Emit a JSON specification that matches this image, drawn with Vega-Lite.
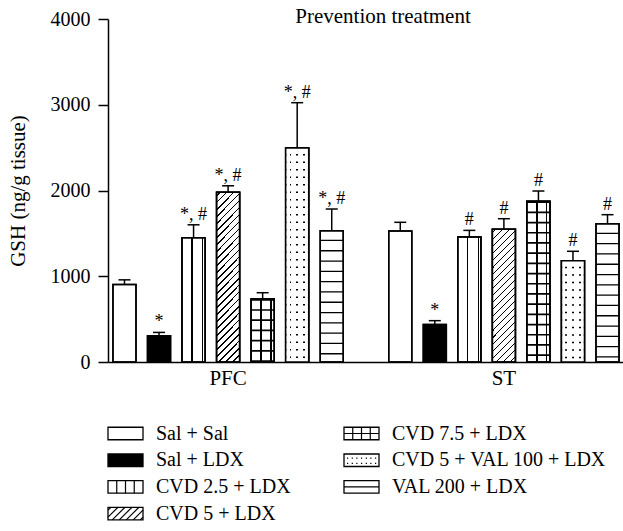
{
 "$schema": "https://vega.github.io/schema/vega-lite/v6.json",
 "background": "white",
 "padding": {"left": 7, "top": 6, "right": 0, "bottom": 0},
 "config": {"view": {"stroke": null}, "font": "Liberation Serif", "concat": {"spacing": 10}},
 "datasets": {
  "main": [
   {"region":"PFC","treatment":"Sal + Sal","mean":905,"upper":958,"label":""},
   {"region":"PFC","treatment":"Sal + LDX","mean":305,"upper":345,"label":"*"},
   {"region":"PFC","treatment":"CVD 2.5 + LDX","mean":1450,"upper":1600,"label":"*, #"},
   {"region":"PFC","treatment":"CVD 5 + LDX","mean":1980,"upper":2055,"label":"*, #"},
   {"region":"PFC","treatment":"CVD 7.5 + LDX","mean":735,"upper":808,"label":""},
   {"region":"PFC","treatment":"CVD 5 + VAL 100 + LDX","mean":2497,"upper":3024,"label":"*, #"},
   {"region":"PFC","treatment":"VAL 200 + LDX","mean":1530,"upper":1784,"label":"*, #"},
   {"region":"ST","treatment":"Sal + Sal","mean":1528,"upper":1629,"label":""},
   {"region":"ST","treatment":"Sal + LDX","mean":438,"upper":482,"label":"*"},
   {"region":"ST","treatment":"CVD 2.5 + LDX","mean":1458,"upper":1535,"label":"#"},
   {"region":"ST","treatment":"CVD 5 + LDX","mean":1547,"upper":1671,"label":"#"},
   {"region":"ST","treatment":"CVD 7.5 + LDX","mean":1874,"upper":1994,"label":"#"},
   {"region":"ST","treatment":"CVD 5 + VAL 100 + LDX","mean":1182,"upper":1291,"label":"#"},
   {"region":"ST","treatment":"VAL 200 + LDX","mean":1613,"upper":1718,"label":"#"}
  ],
  "legend": [
   {"treatment":"Sal + Sal","col":0,"row":0},
   {"treatment":"Sal + LDX","col":0,"row":1},
   {"treatment":"CVD 2.5 + LDX","col":0,"row":2},
   {"treatment":"CVD 5 + LDX","col":0,"row":3},
   {"treatment":"CVD 7.5 + LDX","col":1,"row":0},
   {"treatment":"CVD 5 + VAL 100 + LDX","col":1,"row":1},
   {"treatment":"VAL 200 + LDX","col":1,"row":2}
  ]
 },
 "vconcat": [
  {
   "width": 516,
   "height": 343,
   "title": {"text": "Prevention treatment", "font": "Liberation Serif", "fontSize": 21, "fontWeight": "normal", "color": "black", "anchor": "middle", "frame": "group", "dx": 17, "baseline": "alphabetic", "offset": -35},
   "data": {"name": "main"},
   "encoding": {
    "x": {"field": "region", "type": "nominal", "sort": ["PFC", "ST"], "scale": {"paddingInner": 0.165, "paddingOuter": 0.018},
          "axis": {"title": null, "labelAngle": 0, "ticks": false, "labelFontSize": 21, "labelFont": "Liberation Serif", "labelColor": "black", "labelPadding": 5, "domainColor": "black", "domainWidth": 1.5}},
    "xOffset": {"field": "treatment", "type": "nominal", "scale": {"domain": ["Sal + Sal", "Sal + LDX", "CVD 2.5 + LDX", "CVD 5 + LDX", "CVD 7.5 + LDX", "CVD 5 + VAL 100 + LDX", "VAL 200 + LDX"], "paddingInner": 0.333, "paddingOuter": 0}}
   },
   "layer": [
    {
     "mark": {"type": "bar", "stroke": "black", "strokeWidth": 1.5},
     "encoding": {
      "y": {"field": "mean", "type": "quantitative", "scale": {"domain": [0, 4000]},
            "axis": {"title": "GSH (ng/g tissue)", "titleFont": "Liberation Serif", "titleFontSize": 21, "titleFontWeight": "normal", "titleColor": "black", "titlePadding": 22, "labelFont": "Liberation Serif", "labelFontSize": 20, "labelColor": "black", "labelPadding": 8, "tickSize": 10, "tickColor": "black", "tickWidth": 1.5, "domainColor": "black", "domainWidth": 1.5, "grid": false, "values": [0, 1000, 2000, 3000, 4000], "format": "d"}},
      "fill": {"condition": {"test": "datum.treatment === 'Sal + LDX'", "value": "black"}, "value": "white"}
     }
    },
    {
     "transform": [{"filter": "datum.treatment === 'CVD 5 + LDX' && datum.region === 'PFC'"}],
     "mark": {"type": "bar", "stroke": "black", "strokeWidth": 1.5, "fill": {"gradient": "linear", "x1": 0, "y1": 0, "x2": 0.1533, "y2": 1.1163, "stops": [
      {"offset":0.014,"color":"white"},{"offset":0.014,"color":"black"},{"offset":0.022,"color":"black"},{"offset":0.022,"color":"white"},
      {"offset":0.05,"color":"white"},{"offset":0.05,"color":"black"},{"offset":0.058,"color":"black"},{"offset":0.058,"color":"white"},
      {"offset":0.087,"color":"white"},{"offset":0.087,"color":"black"},{"offset":0.095,"color":"black"},{"offset":0.095,"color":"white"},
      {"offset":0.123,"color":"white"},{"offset":0.123,"color":"black"},{"offset":0.131,"color":"black"},{"offset":0.131,"color":"white"},
      {"offset":0.159,"color":"white"},{"offset":0.159,"color":"black"},{"offset":0.167,"color":"black"},{"offset":0.167,"color":"white"},
      {"offset":0.196,"color":"white"},{"offset":0.196,"color":"black"},{"offset":0.204,"color":"black"},{"offset":0.204,"color":"white"},
      {"offset":0.232,"color":"white"},{"offset":0.232,"color":"black"},{"offset":0.24,"color":"black"},{"offset":0.24,"color":"white"},
      {"offset":0.268,"color":"white"},{"offset":0.268,"color":"black"},{"offset":0.276,"color":"black"},{"offset":0.276,"color":"white"},
      {"offset":0.304,"color":"white"},{"offset":0.304,"color":"black"},{"offset":0.312,"color":"black"},{"offset":0.312,"color":"white"},
      {"offset":0.341,"color":"white"},{"offset":0.341,"color":"black"},{"offset":0.349,"color":"black"},{"offset":0.349,"color":"white"},
      {"offset":0.377,"color":"white"},{"offset":0.377,"color":"black"},{"offset":0.385,"color":"black"},{"offset":0.385,"color":"white"},
      {"offset":0.413,"color":"white"},{"offset":0.413,"color":"black"},{"offset":0.421,"color":"black"},{"offset":0.421,"color":"white"},
      {"offset":0.45,"color":"white"},{"offset":0.45,"color":"black"},{"offset":0.458,"color":"black"},{"offset":0.458,"color":"white"},
      {"offset":0.486,"color":"white"},{"offset":0.486,"color":"black"},{"offset":0.494,"color":"black"},{"offset":0.494,"color":"white"},
      {"offset":0.522,"color":"white"},{"offset":0.522,"color":"black"},{"offset":0.53,"color":"black"},{"offset":0.53,"color":"white"},
      {"offset":0.559,"color":"white"},{"offset":0.559,"color":"black"},{"offset":0.567,"color":"black"},{"offset":0.567,"color":"white"},
      {"offset":0.595,"color":"white"},{"offset":0.595,"color":"black"},{"offset":0.603,"color":"black"},{"offset":0.603,"color":"white"},
      {"offset":0.631,"color":"white"},{"offset":0.631,"color":"black"},{"offset":0.639,"color":"black"},{"offset":0.639,"color":"white"},
      {"offset":0.667,"color":"white"},{"offset":0.667,"color":"black"},{"offset":0.675,"color":"black"},{"offset":0.675,"color":"white"},
      {"offset":0.704,"color":"white"},{"offset":0.704,"color":"black"},{"offset":0.712,"color":"black"},{"offset":0.712,"color":"white"},
      {"offset":0.74,"color":"white"},{"offset":0.74,"color":"black"},{"offset":0.748,"color":"black"},{"offset":0.748,"color":"white"},
      {"offset":0.776,"color":"white"},{"offset":0.776,"color":"black"},{"offset":0.784,"color":"black"},{"offset":0.784,"color":"white"},
      {"offset":0.813,"color":"white"},{"offset":0.813,"color":"black"},{"offset":0.821,"color":"black"},{"offset":0.821,"color":"white"},
      {"offset":0.849,"color":"white"},{"offset":0.849,"color":"black"},{"offset":0.857,"color":"black"},{"offset":0.857,"color":"white"},
      {"offset":0.885,"color":"white"},{"offset":0.885,"color":"black"},{"offset":0.893,"color":"black"},{"offset":0.893,"color":"white"},
      {"offset":0.922,"color":"white"},{"offset":0.922,"color":"black"},{"offset":0.93,"color":"black"},{"offset":0.93,"color":"white"},
      {"offset":0.958,"color":"white"},{"offset":0.958,"color":"black"},{"offset":0.966,"color":"black"},{"offset":0.966,"color":"white"}
     ]}},
     "encoding": {"y": {"field": "mean", "type": "quantitative"}}
    },
    {
     "transform": [{"filter": "datum.treatment === 'CVD 5 + LDX' && datum.region === 'ST'"}],
     "mark": {"type": "bar", "stroke": "black", "strokeWidth": 1.5, "fill": {"gradient": "linear", "x1": 0, "y1": 0, "x2": 0.2003, "y2": 1.1404, "stops": [
      {"offset":0.017,"color":"white"},{"offset":0.017,"color":"black"},{"offset":0.027,"color":"black"},{"offset":0.027,"color":"white"},
      {"offset":0.062,"color":"white"},{"offset":0.062,"color":"black"},{"offset":0.072,"color":"black"},{"offset":0.072,"color":"white"},
      {"offset":0.107,"color":"white"},{"offset":0.107,"color":"black"},{"offset":0.117,"color":"black"},{"offset":0.117,"color":"white"},
      {"offset":0.152,"color":"white"},{"offset":0.152,"color":"black"},{"offset":0.162,"color":"black"},{"offset":0.162,"color":"white"},
      {"offset":0.197,"color":"white"},{"offset":0.197,"color":"black"},{"offset":0.207,"color":"black"},{"offset":0.207,"color":"white"},
      {"offset":0.242,"color":"white"},{"offset":0.242,"color":"black"},{"offset":0.252,"color":"black"},{"offset":0.252,"color":"white"},
      {"offset":0.286,"color":"white"},{"offset":0.286,"color":"black"},{"offset":0.296,"color":"black"},{"offset":0.296,"color":"white"},
      {"offset":0.331,"color":"white"},{"offset":0.331,"color":"black"},{"offset":0.341,"color":"black"},{"offset":0.341,"color":"white"},
      {"offset":0.376,"color":"white"},{"offset":0.376,"color":"black"},{"offset":0.386,"color":"black"},{"offset":0.386,"color":"white"},
      {"offset":0.421,"color":"white"},{"offset":0.421,"color":"black"},{"offset":0.431,"color":"black"},{"offset":0.431,"color":"white"},
      {"offset":0.466,"color":"white"},{"offset":0.466,"color":"black"},{"offset":0.476,"color":"black"},{"offset":0.476,"color":"white"},
      {"offset":0.511,"color":"white"},{"offset":0.511,"color":"black"},{"offset":0.521,"color":"black"},{"offset":0.521,"color":"white"},
      {"offset":0.556,"color":"white"},{"offset":0.556,"color":"black"},{"offset":0.566,"color":"black"},{"offset":0.566,"color":"white"},
      {"offset":0.601,"color":"white"},{"offset":0.601,"color":"black"},{"offset":0.611,"color":"black"},{"offset":0.611,"color":"white"},
      {"offset":0.646,"color":"white"},{"offset":0.646,"color":"black"},{"offset":0.656,"color":"black"},{"offset":0.656,"color":"white"},
      {"offset":0.691,"color":"white"},{"offset":0.691,"color":"black"},{"offset":0.701,"color":"black"},{"offset":0.701,"color":"white"},
      {"offset":0.735,"color":"white"},{"offset":0.735,"color":"black"},{"offset":0.745,"color":"black"},{"offset":0.745,"color":"white"},
      {"offset":0.78,"color":"white"},{"offset":0.78,"color":"black"},{"offset":0.79,"color":"black"},{"offset":0.79,"color":"white"},
      {"offset":0.825,"color":"white"},{"offset":0.825,"color":"black"},{"offset":0.835,"color":"black"},{"offset":0.835,"color":"white"},
      {"offset":0.87,"color":"white"},{"offset":0.87,"color":"black"},{"offset":0.88,"color":"black"},{"offset":0.88,"color":"white"},
      {"offset":0.915,"color":"white"},{"offset":0.915,"color":"black"},{"offset":0.925,"color":"black"},{"offset":0.925,"color":"white"},
      {"offset":0.96,"color":"white"},{"offset":0.96,"color":"black"},{"offset":0.97,"color":"black"},{"offset":0.97,"color":"white"}
     ]}},
     "encoding": {"y": {"field": "mean", "type": "quantitative"}}
    },
    {
     "transform": [{"filter": "datum.treatment === 'CVD 2.5 + LDX'"}],
     "mark": {"type": "bar", "stroke": "black", "strokeWidth": 1.5, "fill": {"gradient": "linear", "x1": 0, "y1": 0, "x2": 1, "y2": 0, "stops": [
      {"offset":0.41,"color":"white"},{"offset":0.41,"color":"black"},{"offset":0.46,"color":"black"},{"offset":0.46,"color":"white"},
      {"offset":0.865,"color":"white"},{"offset":0.865,"color":"black"},{"offset":0.915,"color":"black"},{"offset":0.915,"color":"white"}
     ]}},
     "encoding": {"y": {"field": "mean", "type": "quantitative"}}
    },
    {
     "transform": [{"filter": "datum.treatment === 'CVD 7.5 + LDX'"}],
     "mark": {"type": "bar", "stroke": "black", "strokeWidth": 1.5, "fill": {"gradient": "linear", "x1": 0, "y1": 0, "x2": 1, "y2": 0, "stops": [
      {"offset":0.395,"color":"white"},{"offset":0.395,"color":"black"},{"offset":0.465,"color":"black"},{"offset":0.465,"color":"white"},
      {"offset":0.815,"color":"white"},{"offset":0.815,"color":"black"},{"offset":0.885,"color":"black"},{"offset":0.885,"color":"white"}
     ]}},
     "encoding": {"y": {"field": "mean", "type": "quantitative"}}
    },
    {
     "transform": [{"filter": "datum.treatment === 'CVD 7.5 + LDX'"}],
     "mark": {"type": "rule", "color": "black", "strokeWidth": 23, "strokeDash": [1.7, 8.5], "strokeCap": "butt"},
     "encoding": {"y": {"field": "mean", "type": "quantitative"}, "y2": {"datum": 0}}
    },
    {
     "transform": [{"filter": "datum.treatment === 'VAL 200 + LDX'"}],
     "mark": {"type": "rule", "color": "black", "strokeWidth": 23, "strokeDash": [1.3, 9], "strokeDashOffset": 1.3, "strokeCap": "butt"},
     "encoding": {"y": {"field": "mean", "type": "quantitative"}, "y2": {"datum": 0}}
    },
    {
     "transform": [{"filter": "datum.treatment === 'CVD 5 + VAL 100 + LDX'"}],
     "mark": {"type": "bar", "stroke": "black", "strokeWidth": 1.5, "fill": {"gradient": "linear", "x1": 0, "y1": 0, "x2": 1, "y2": 0, "stops": [
      {"offset":0.17,"color":"white"},{"offset":0.17,"color":"black"},{"offset":0.235,"color":"black"},{"offset":0.235,"color":"white"},
      {"offset":0.468,"color":"white"},{"offset":0.468,"color":"black"},{"offset":0.533,"color":"black"},{"offset":0.533,"color":"white"},
      {"offset":0.765,"color":"white"},{"offset":0.765,"color":"black"},{"offset":0.83,"color":"black"},{"offset":0.83,"color":"white"}
     ]}},
     "encoding": {"y": {"field": "mean", "type": "quantitative"}}
    },
    {
     "transform": [{"filter": "datum.treatment === 'CVD 5 + VAL 100 + LDX'"}],
     "mark": {"type": "rule", "color": "white", "strokeWidth": 23, "strokeDash": [6, 1.5], "strokeCap": "butt"},
     "encoding": {"y": {"field": "mean", "type": "quantitative"}, "y2": {"datum": 0}}
    },
    {
     "mark": {"type": "bar", "fillOpacity": 0, "stroke": "black", "strokeWidth": 1.5},
     "encoding": {"y": {"field": "mean", "type": "quantitative"}}
    },
    {
     "mark": {"type": "rule", "color": "black", "strokeWidth": 1.5},
     "encoding": {"y": {"field": "upper", "type": "quantitative"}, "y2": {"field": "mean"}}
    },
    {
     "mark": {"type": "tick", "orient": "horizontal", "size": 12, "thickness": 1.5, "color": "black", "opacity": 1},
     "encoding": {"y": {"field": "upper", "type": "quantitative"}}
    },
    {
     "mark": {"type": "text", "baseline": "alphabetic", "dy": -5, "fontSize": 18, "font": "Liberation Serif", "color": "black"},
     "encoding": {"y": {"field": "upper", "type": "quantitative"}, "text": {"field": "label"}}
    }
   ]
  },
  {
   "width": 516,
   "height": 125,
   "data": {"name": "legend"},
   "encoding": {
    "x": {"field": "col", "type": "quantitative", "scale": {"domain": [0, 1], "range": [17.5, 253.5]}, "axis": null},
    "y": {"field": "row", "type": "quantitative", "scale": {"domain": [0, 3], "range": [35.5, 115.7]}, "axis": null}
   },
   "layer": [
    {
     "mark": {"type": "point", "shape": "M-1,-0.357H1V0.357H-1Z", "size": 1225, "stroke": "black", "strokeWidth": 1.3, "opacity": 1, "filled": true},
     "encoding": {"fill": {"condition": {"test": "datum.treatment === 'Sal + LDX'", "value": "black"}, "value": "white"}}
    },
    {
     "mark": {"type": "point", "size": 1225, "color": "black", "stroke": "black", "strokeWidth": 1.2, "opacity": 1, "filled": false},
     "encoding": {"shape": {"field": "treatment", "type": "nominal", "legend": null, "scale": {
      "domain": ["Sal + Sal", "Sal + LDX", "CVD 2.5 + LDX", "CVD 5 + LDX", "CVD 7.5 + LDX", "CVD 5 + VAL 100 + LDX", "VAL 200 + LDX"],
      "range": [
       "M0,0",
       "M0,0",
       "M-0.5,-0.357V0.357M0,-0.357V0.357M0.5,-0.357V0.357",
       "M-1,-0.2L-0.843,-0.357M-1,0.2L-0.443,-0.357M-0.757,0.357L-0.043,-0.357M-0.357,0.357L0.357,-0.357M0.043,0.357L0.757,-0.357M0.443,0.357L1,-0.2M0.843,0.357L1,0.2",
       "M-0.5,-0.357V0.357M0,-0.357V0.357M0.5,-0.357V0.357M-1,0H1",
       "M-0.83,-0.12h0.07M-0.56,-0.12h0.07M-0.3,-0.12h0.07M-0.03,-0.12h0.07M0.24,-0.12h0.07M0.5,-0.12h0.07M0.77,-0.12h0.07M-0.83,0.18h0.07M-0.56,0.18h0.07M-0.3,0.18h0.07M-0.03,0.18h0.07M0.24,0.18h0.07M0.5,0.18h0.07M0.77,0.18h0.07",
       "M-1,0H1"
      ]}}}
    },
    {
     "mark": {"type": "text", "align": "left", "baseline": "middle", "dx": 30.5, "fontSize": 20, "font": "Liberation Serif", "color": "black"},
     "encoding": {"text": {"field": "treatment"}}
    }
   ]
  }
 ]
}
